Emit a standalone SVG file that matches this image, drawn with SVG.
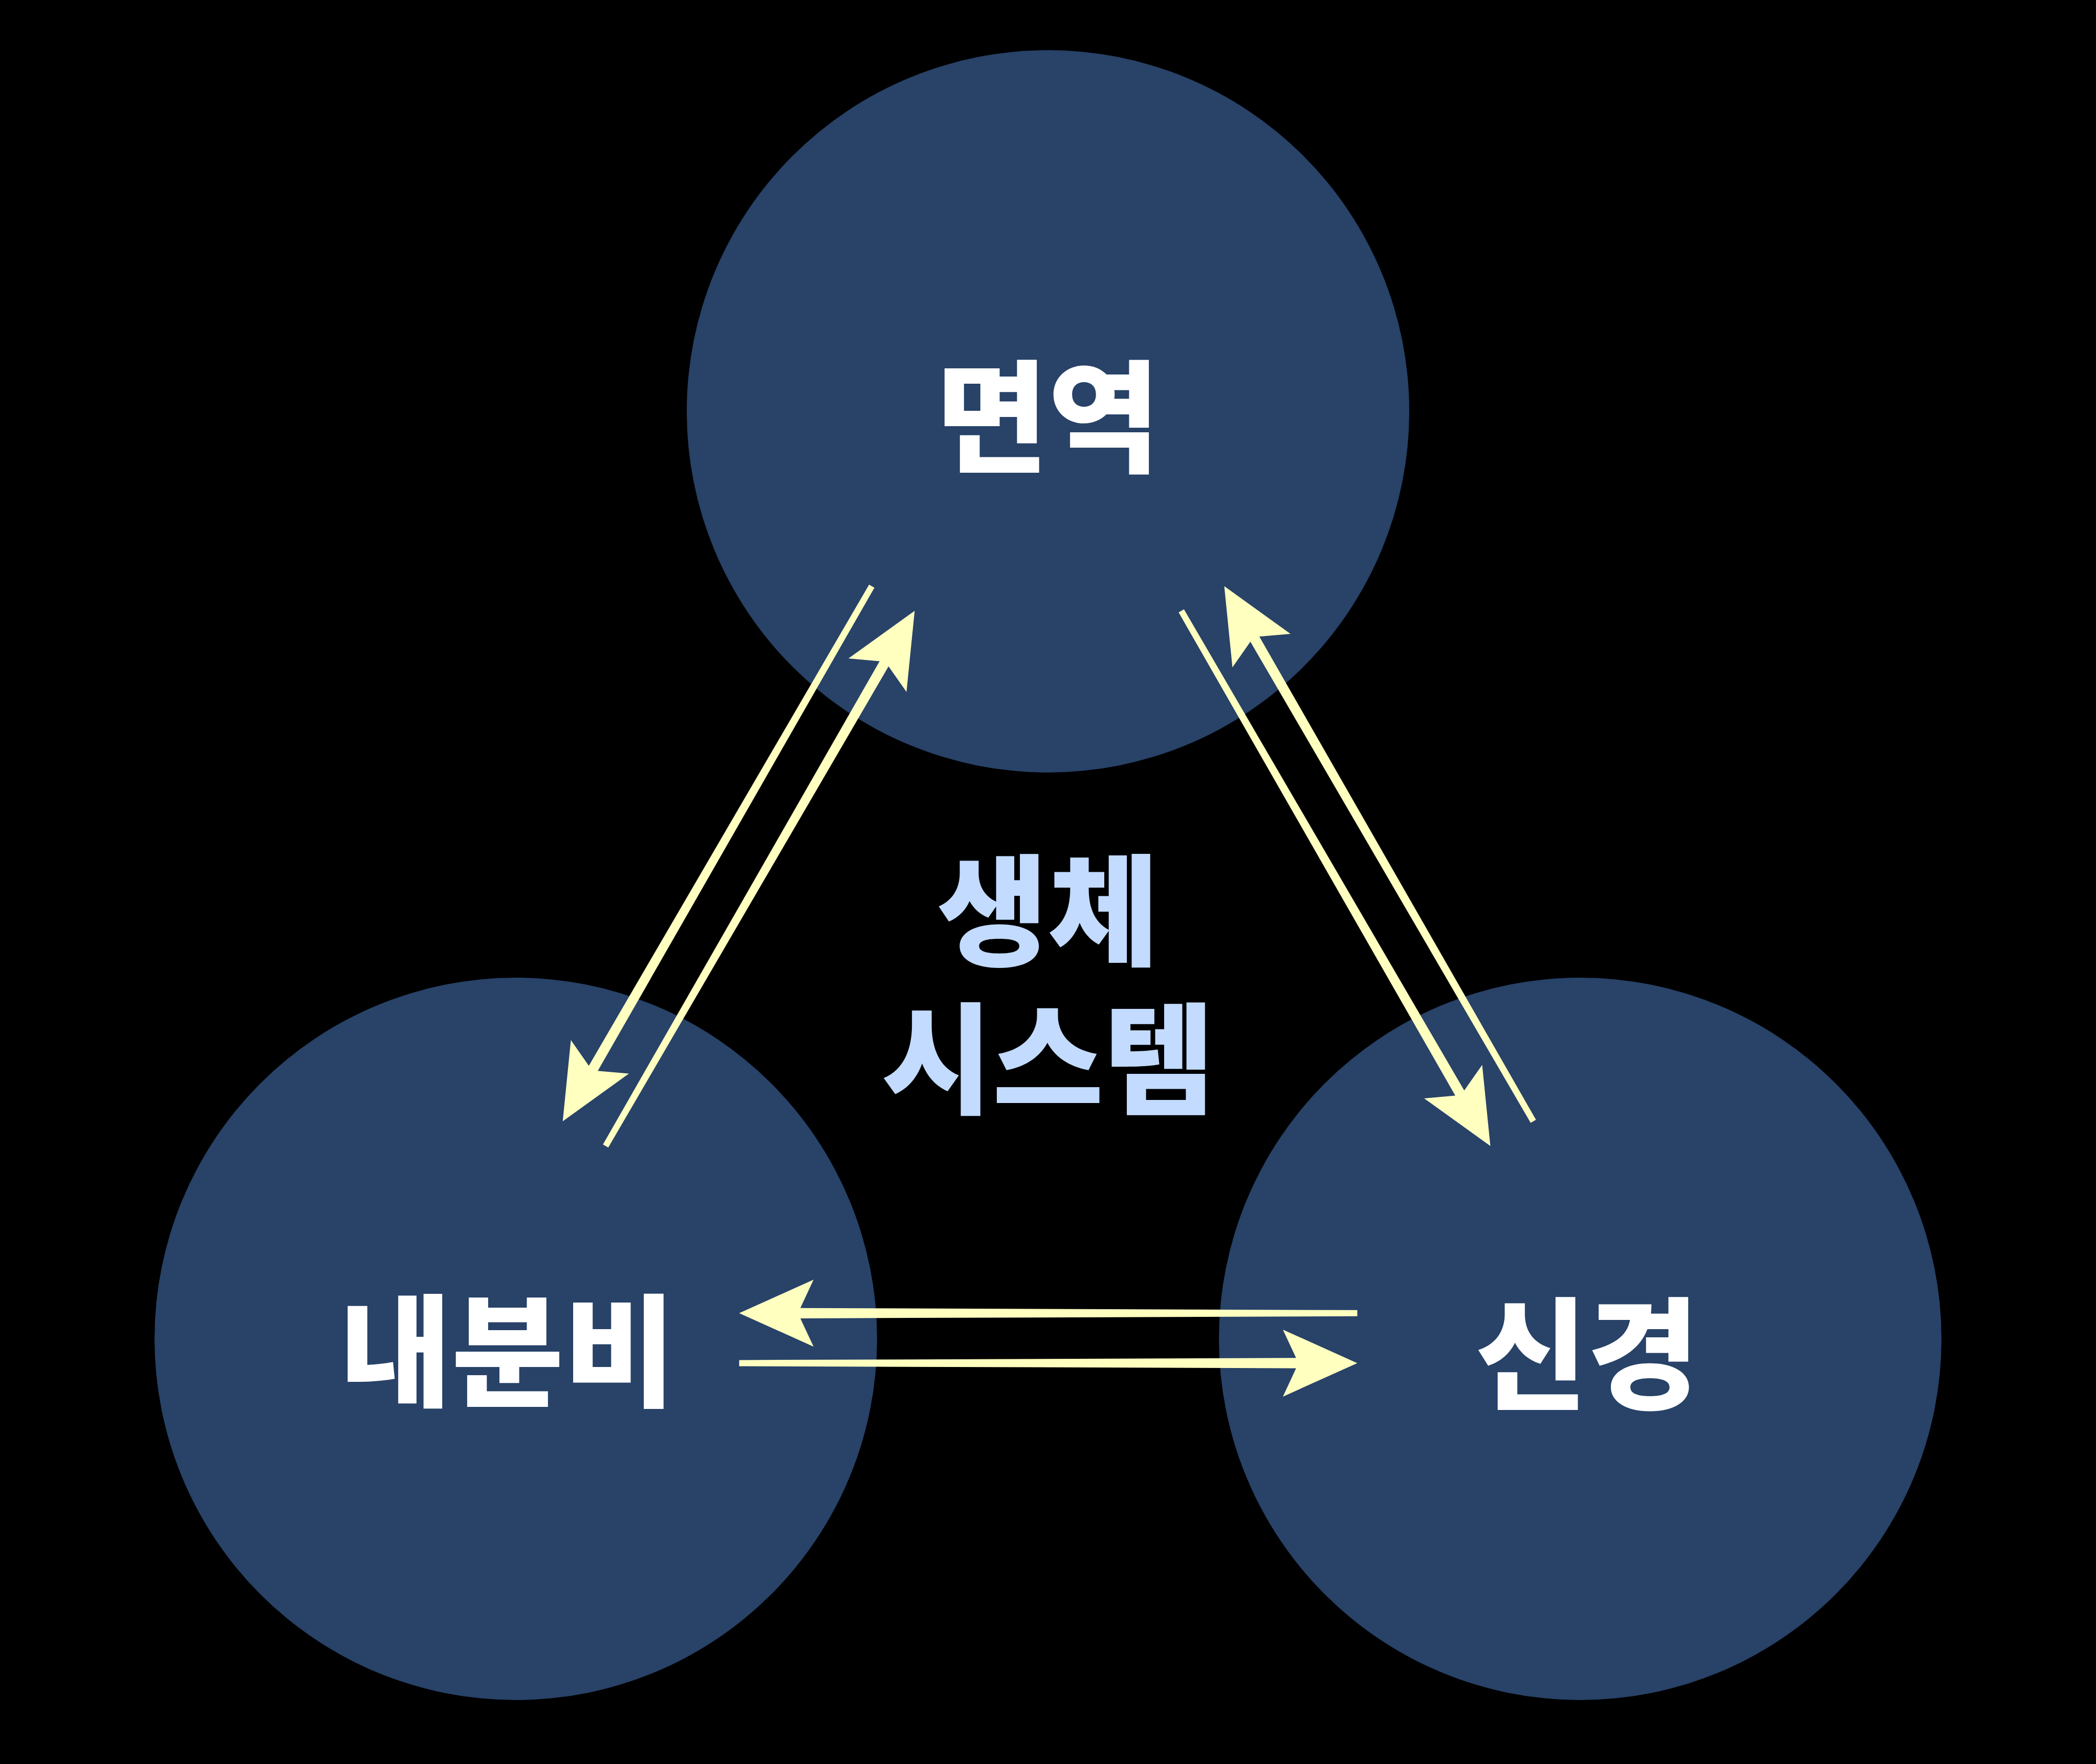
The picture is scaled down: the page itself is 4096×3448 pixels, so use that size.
<svg xmlns="http://www.w3.org/2000/svg" xmlns:xlink="http://www.w3.org/1999/xlink" width="4096" height="3448" viewBox="0 0 4096 3448">
  <style>
    .node { fill: #284268; }
    .label { font-family: "Noto Sans CJK KR", "Noto Sans", sans-serif; font-weight: 900; fill: #FFFFFF; text-anchor: middle; dominant-baseline: central; font-size: 238px; }
    .center { font-family: "Liberation Sans", "Noto Sans CJK KR", sans-serif; font-weight: 900; fill: #C2DBFF; text-anchor: middle; font-size: 236px; }
    .arrow { fill: #FFFFC0; }
  </style>
  <defs>
    <path id="arr" d="M0,-6 L1088.3,-10.1 L1062.5,-65.5 L1207.9,0 L1062.5,65.5 L1088.3,10.1 L0,6 Z"/>
  </defs>
  <rect x="0" y="0" width="4096" height="3448" fill="#000000"/>

  <g id="node-immune">
    <circle class="node" cx="2048" cy="804" r="706"/>
    <text class="label" x="2048" y="800">면역</text>
  </g>
  <g id="node-endocrine">
    <circle class="node" cx="1008" cy="2617" r="706"/>
    <text class="label" x="992" y="2626">내분비</text>
  </g>
  <g id="node-nervous">
    <circle class="node" cx="3088" cy="2617" r="706"/>
    <text class="label" x="3102" y="2632">신경</text>
  </g>

  <g id="connectors">
    <use class="arrow" xlink:href="#arr" href="#arr" transform="translate(1703.6,1145.7) rotate(120)"/>
    <use class="arrow" xlink:href="#arr" href="#arr" transform="translate(1183.5,2240) rotate(-60)"/>
    <use class="arrow" xlink:href="#arr" href="#arr" transform="translate(2996.4,2191.8) rotate(-120)"/>
    <use class="arrow" xlink:href="#arr" href="#arr" transform="translate(2308.5,1194) rotate(60)"/>
    <use class="arrow" xlink:href="#arr" href="#arr" transform="translate(2652.4,2566.8) rotate(180)"/>
    <use class="arrow" xlink:href="#arr" href="#arr" transform="translate(1444.5,2664.4)"/>
  </g>

  <g id="center-label">
    <text class="center" x="2048" y="1869">생체</text>
    <text class="center" x="2048" y="2159">시스템</text>
  </g>
</svg>
